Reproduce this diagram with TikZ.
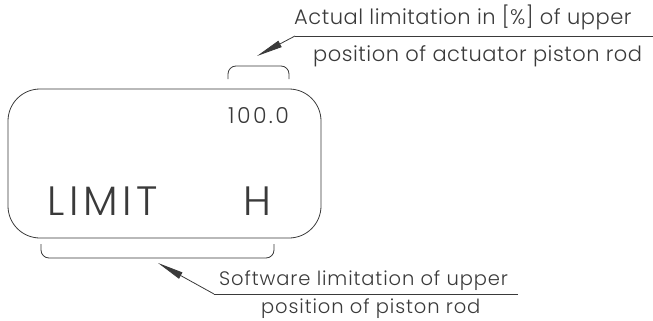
\documentclass[tikz,border=0pt]{standalone}
\usepackage{fontspec}
\setmainfont{Poppins}[UprightFont=* Light]
\usetikzlibrary{arrows.meta}
\definecolor{ink}{HTML}{3A3A3A}
\tikzset{
  line/.style={draw=ink, line width=0.8pt},
  lead/.style={line, -{Triangle[length=26pt,width=7pt]}},
  lblup/.style={inner sep=0pt, anchor=base west, text=ink, font=\fontsize{21}{21}\selectfont\addfontfeatures{LetterSpace=2.5}},
  lbllo/.style={inner sep=0pt, anchor=base west, text=ink, font=\fontsize{19.5}{19.5}\selectfont\addfontfeatures{LetterSpace=4.5}},
  big/.style={inner sep=0pt, anchor=base west, text=ink, font=\fontsize{41}{41}\selectfont\addfontfeatures{LetterSpace=11.5}},
  mid/.style={inner sep=0pt, anchor=base west, text=ink, font=\fontsize{22}{22}\selectfont\addfontfeatures{LetterSpace=11}},
}
\begin{document}
\begin{tikzpicture}[x=1pt,y=-1pt]
\useasboundingbox (0,0) rectangle (653,321);
% display box
\node[line, rounded corners=32pt, minimum width=313pt, minimum height=149pt, inner sep=0pt] (box) at (164.5,163.5) {};
\node[mid] (val) at (228,123) {100.0};
\node[big] (limit) at (47,215) {LIMIT};
\node[big] (h) at (243,215) {H};
% brackets
\draw[line, rounded corners=8pt] (228,79) -- (228,66) -- (289,66) -- (289,79);
\draw[line, rounded corners=8pt] (41,244) -- (41,258) -- (274,258) -- (274,244);
% upper annotation
\coordinate (ue) at (653,36);
\coordinate (uk) at (295,36);
\coordinate (ua) at (257,56);
\draw[line] (ue) -- (uk);
\draw[lead] (uk) -- (ua);
\node[lblup] (t1) at (294,25) {Actual limitation in [\%] of upper};
\node[lblup] (t2) at (313,62) {position of actuator piston rod};
% lower annotation
\coordinate (le) at (518,294);
\coordinate (lk) at (214,294);
\coordinate (la) at (158,263);
\draw[line] (le) -- (lk);
\draw[lead] (lk) -- (la);
\node[lbllo] (t3) at (219,285) {Software limitation of upper};
\node[lbllo] (t4) at (261,313) {position of piston rod};
\end{tikzpicture}
\end{document}
